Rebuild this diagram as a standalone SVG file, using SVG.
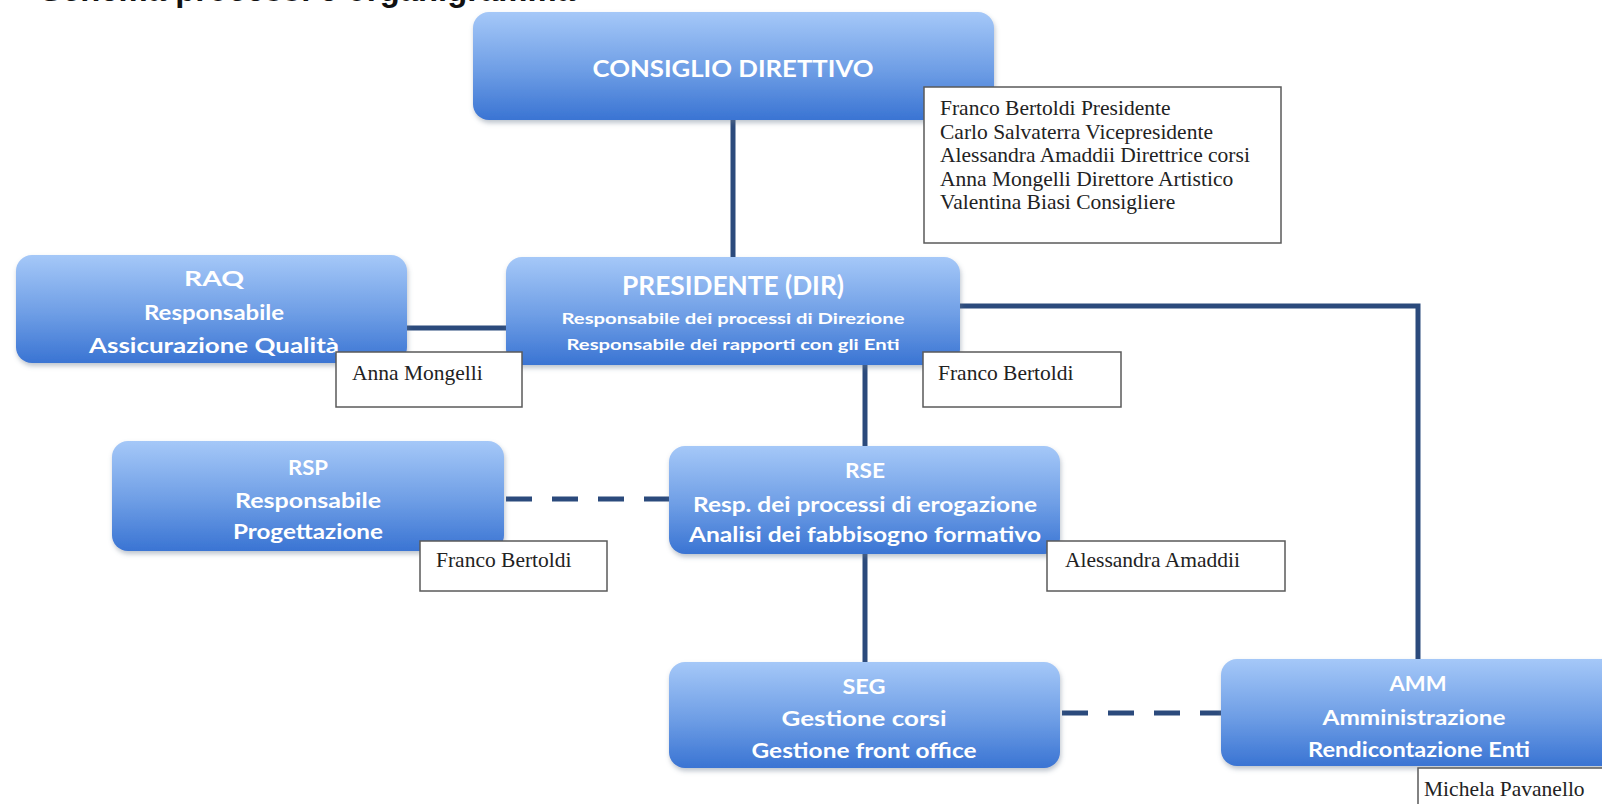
<svg xmlns="http://www.w3.org/2000/svg" width="1602" height="804" viewBox="0 0 1602 804">
<defs>
  <linearGradient id="boxGrad" x1="0" y1="0" x2="0" y2="1">
    <stop offset="0" stop-color="#a5c8f8"/>
    <stop offset="0.55" stop-color="#6d9de5"/>
    <stop offset="1" stop-color="#3a74d3"/>
  </linearGradient>
  <filter id="shadow" x="-5%" y="-10%" width="110%" height="125%">
    <feDropShadow dx="1" dy="3" stdDeviation="2.5" flood-color="#6a7a90" flood-opacity="0.45"/>
  </filter>
</defs>
<style>
  .box { fill: url(#boxGrad); filter: url(#shadow); }
  .bt { font-family: Lato, "Open Sans", "Liberation Sans", sans-serif; font-weight: bold; fill: #ffffff; text-anchor: middle; }
  .name { fill: #ffffff; stroke: #5a5a5a; stroke-width: 1.5; }
  .nt { font-family: "Liberation Serif", "DejaVu Serif", serif; font-size: 21.5px; fill: #222222; }
  .conn { stroke: #2b4a7c; stroke-width: 5; fill: none; }
  .dash { stroke-dasharray: 26 20; }
  .title { font-family: "Liberation Sans", Arial, sans-serif; font-weight: bold; font-size: 34px; fill: #111111; }
</style>
<rect width="1602" height="804" fill="#ffffff"/>
<text class="title" x="40" y="1" textLength="535" lengthAdjust="spacingAndGlyphs">Schema processi e organigramma</text>

<g id="connectors">
  <line class="conn" x1="733" y1="118" x2="733" y2="260"/>
  <line class="conn" x1="404" y1="328" x2="510" y2="328"/>
  <polyline class="conn" points="956,306 1418,306 1418,662"/>
  <line class="conn" x1="865" y1="362" x2="865" y2="449"/>
  <line class="conn" x1="865" y1="551" x2="865" y2="665"/>
  <line class="conn dash" x1="506" y1="499" x2="669" y2="499"/>
  <line class="conn dash" x1="1062" y1="713" x2="1221" y2="713"/>
</g>

<g id="consiglio">
  <rect class="box" x="473" y="12" width="521" height="108" rx="16"/>
  <text class="bt" x="733" y="77" font-size="23" textLength="281" lengthAdjust="spacingAndGlyphs">CONSIGLIO DIRETTIVO</text>
</g>
<g id="membri">
  <rect class="name" x="924" y="87" width="357" height="156"/>
  <text class="nt" x="940" y="115">Franco Bertoldi Presidente</text>
  <text class="nt" x="940" y="139">Carlo Salvaterra Vicepresidente</text>
  <text class="nt" x="940" y="162">Alessandra Amaddii Direttrice corsi</text>
  <text class="nt" x="940" y="186">Anna Mongelli Direttore Artistico</text>
  <text class="nt" x="940" y="209">Valentina Biasi Consigliere</text>
</g>

<g id="raq">
  <rect class="box" x="16" y="255" width="391" height="108" rx="16"/>
  <text class="bt" x="214" y="286" font-size="20" textLength="60" lengthAdjust="spacingAndGlyphs">RAQ</text>
  <text class="bt" x="214" y="320" font-size="20" textLength="140" lengthAdjust="spacingAndGlyphs">Responsabile</text>
  <text class="bt" x="214" y="353" font-size="20" textLength="250" lengthAdjust="spacingAndGlyphs">Assicurazione Qualità</text>
</g>
<g id="presidente">
  <rect class="box" x="506" y="257" width="454" height="108" rx="16"/>
  <text class="bt" x="733" y="295" font-size="27" textLength="222" lengthAdjust="spacingAndGlyphs">PRESIDENTE (DIR)</text>
  <text class="bt" x="733" y="324" font-size="15.5" textLength="343" lengthAdjust="spacingAndGlyphs">Responsabile dei processi di Direzione</text>
  <text class="bt" x="733" y="350" font-size="15.5" textLength="333" lengthAdjust="spacingAndGlyphs">Responsabile dei rapporti con gli Enti</text>
</g>
<g id="rsp">
  <rect class="box" x="112" y="441" width="392" height="110" rx="16"/>
  <text class="bt" x="308" y="475" font-size="20" textLength="40" lengthAdjust="spacingAndGlyphs">RSP</text>
  <text class="bt" x="308" y="508" font-size="20" textLength="146" lengthAdjust="spacingAndGlyphs">Responsabile</text>
  <text class="bt" x="308" y="539" font-size="20" textLength="150" lengthAdjust="spacingAndGlyphs">Progettazione</text>
</g>
<g id="rse">
  <rect class="box" x="669" y="446" width="391" height="108" rx="16"/>
  <text class="bt" x="865" y="478" font-size="20" textLength="40" lengthAdjust="spacingAndGlyphs">RSE</text>
  <text class="bt" x="865" y="512" font-size="20" textLength="344" lengthAdjust="spacingAndGlyphs">Resp. dei processi di erogazione</text>
  <text class="bt" x="865" y="542" font-size="20" textLength="352" lengthAdjust="spacingAndGlyphs">Analisi dei fabbisogno formativo</text>
</g>
<g id="seg">
  <rect class="box" x="669" y="662" width="391" height="106" rx="16"/>
  <text class="bt" x="864" y="694" font-size="20" textLength="43" lengthAdjust="spacingAndGlyphs">SEG</text>
  <text class="bt" x="864" y="726" font-size="20" textLength="165" lengthAdjust="spacingAndGlyphs">Gestione corsi</text>
  <text class="bt" x="864" y="758" font-size="20" textLength="225" lengthAdjust="spacingAndGlyphs">Gestione front office</text>
</g>
<g id="amm">
  <rect class="box" x="1221" y="659" width="400" height="107" rx="16"/>
  <text class="bt" x="1418" y="691" font-size="20" textLength="57" lengthAdjust="spacingAndGlyphs">AMM</text>
  <text class="bt" x="1414" y="725" font-size="20" textLength="183" lengthAdjust="spacingAndGlyphs">Amministrazione</text>
  <text class="bt" x="1419" y="757" font-size="20" textLength="222" lengthAdjust="spacingAndGlyphs">Rendicontazione Enti</text>
</g>

<g id="nome-raq">
  <rect class="name" x="336" y="352" width="186" height="55"/>
  <text class="nt" x="352" y="380">Anna Mongelli</text>
</g>
<g id="nome-presidente">
  <rect class="name" x="923" y="352" width="198" height="55"/>
  <text class="nt" x="938" y="380">Franco Bertoldi</text>
</g>
<g id="nome-rsp">
  <rect class="name" x="420" y="541" width="187" height="50"/>
  <text class="nt" x="436" y="567">Franco Bertoldi</text>
</g>
<g id="nome-rse">
  <rect class="name" x="1047" y="541" width="238" height="50"/>
  <text class="nt" x="1065" y="567">Alessandra Amaddii</text>
</g>
<g id="nome-amm">
  <rect class="name" x="1418" y="768" width="200" height="50"/>
  <text class="nt" x="1424" y="796">Michela Pavanello</text>
</g>
</svg>
